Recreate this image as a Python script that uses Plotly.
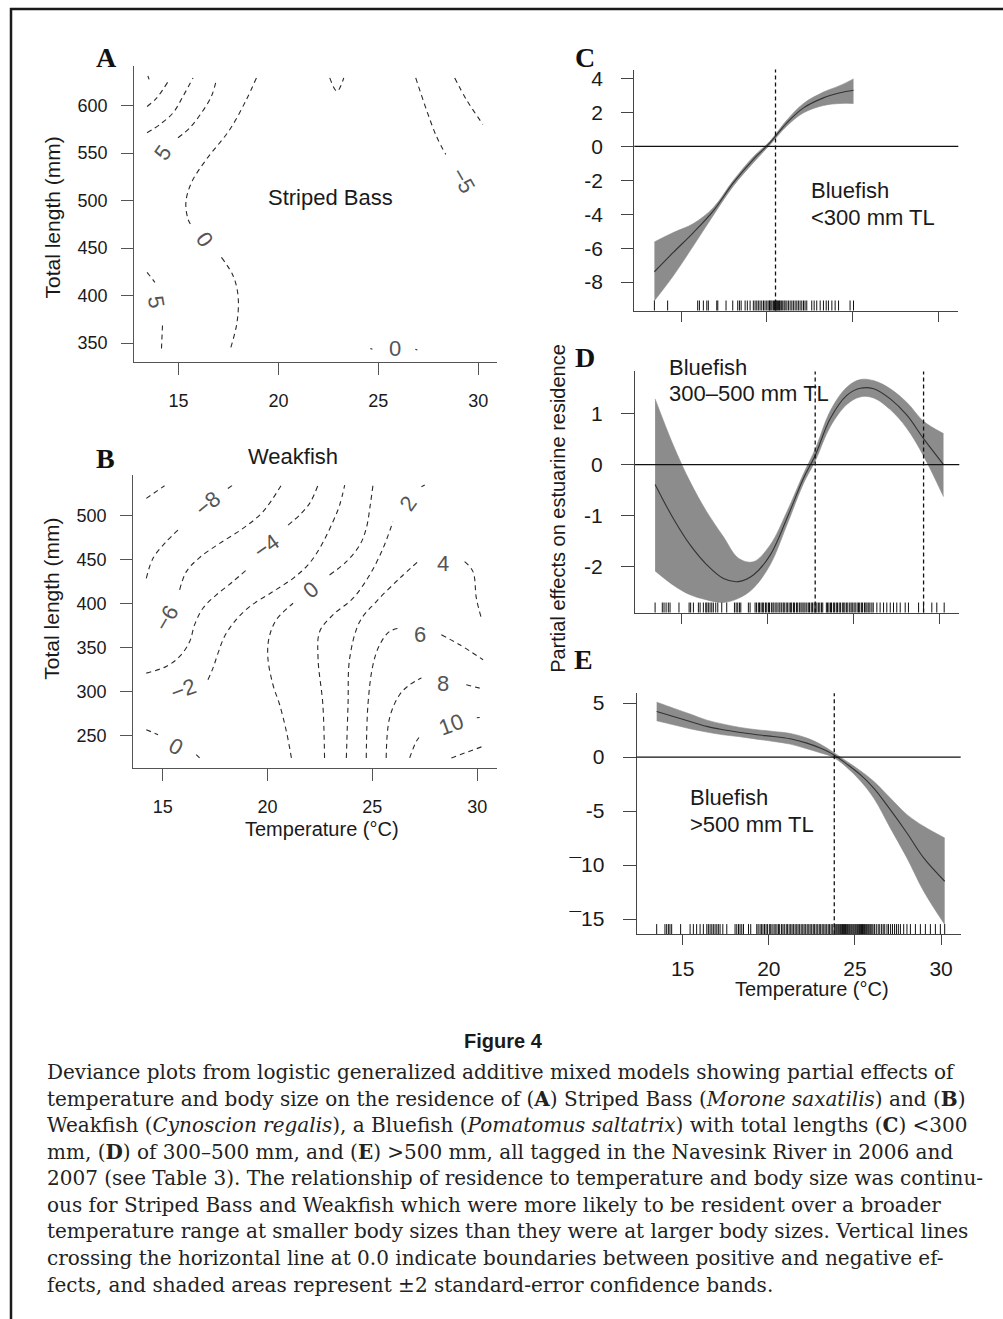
import plotly.graph_objects as go

W, H = 1003, 1319


def pxx(x):
    return x / W


def pyy(y):
    return 1 - y / H


# ============================ DATA ============================
# ---- Panel A: Striped Bass contour lines (temperature degC, total length mm)
A_c1_x = [13.47, 13.53]
A_c1_y = [631.0, 627.5]
A_c2_x = [13.43, 13.90, 14.48]
A_c2_y = [599.0, 607.7, 625.2]
A_c3_x = [13.43, 14.07, 14.73, 15.23, 15.73]
A_c3_y = [571.3, 580.1, 592.3, 609.8, 629.0]
A_c4_x = [14.98, 15.57, 16.15, 16.65, 16.90]
A_c4_y = [566.1, 576.6, 592.3, 609.8, 627.3]
A_c5_x = [18.90, 18.40, 17.57, 16.40, 15.65, 15.37, 15.48, 15.65, None, 17.15, 17.73, 17.98, 17.93, 17.60]
A_c5_y = [629.0, 606.3, 574.8, 543.4, 518.9, 497.9, 480.4, 473.4, None, 440.2, 421.0, 400.0, 372.0, 344.1]
A_c6_x = [13.43, 13.82, None, 14.20, 14.15]
A_c6_y = [424.5, 414.0, None, 368.5, 344.1]
A_c7_x = [22.57, 22.93, 23.27]
A_c7_y = [629.0, 615.0, 629.0]
A_c8_x = [26.87, 27.40, 27.90, 28.37]
A_c8_y = [629.0, 595.8, 567.8, 548.6]
A_c9_x = [28.82, 29.40, 30.23]
A_c9_y = [629.0, 606.3, 580.1]
A_c10_x = [24.60, 24.70, None, 26.85, 26.95]
A_c10_y = [344.5, 343.7, None, 343.7, 342.9]
A_labels = ["5", "0", "5", "\u22125", "0"]
A_label_x = [14.23, 16.32, 13.90, 29.23, 25.82]
A_label_y = [550.3, 459.4, 393.0, 520.6, 344.1]
A_label_ang = [-55, 55, 80, 60, 0]
A_xticks = [15, 20, 25, 30]
A_yticks = [350, 400, 450, 500, 550, 600]

# ---- Panel B: Weakfish contour lines
B_m10_x = [14.22, 15.09]
B_m10_y = [519.7, 534.0]
B_m8_x = [14.22, 14.54, 15.17, 15.73, None, 18.11, 18.35]
B_m8_y = [428.9, 451.6, 470.5, 483.7, None, 531.0, 534.8]
B_m6_x = [15.81, 16.13, 16.76, 17.72, 18.83, 19.78, 20.66]
B_m6_y = [415.7, 436.5, 452.4, 468.6, 485.6, 504.5, 534.8]
B_m4_x = [14.22, 15.17, 15.81, 16.29, 16.52, 16.92, 17.56, 18.35, 18.99, None, 20.98, 21.53, 22.01, 22.41]
B_m4_y = [321.2, 328.8, 340.1, 357.1, 376.0, 394.9, 410.1, 425.2, 438.4, None, 489.4, 500.8, 514.0, 534.8]
B_m2_x = [17.16, 17.40, 17.64, 17.95, 18.43, 19.15, 20.26, 21.22, 21.93, 22.49, 23.12, 23.44, 23.68]
B_m2_y = [313.7, 326.9, 343.9, 362.8, 379.8, 396.8, 413.8, 428.9, 444.1, 463.0, 493.2, 512.1, 534.8]
B_0a_x = [21.14, 20.90, 20.58, 20.26, 20.02, 20.07, 20.42, 21.22, None, 22.96, 23.76, 24.40, 24.71, 24.90, 25.03]
B_0a_y = [224.9, 255.1, 285.3, 308.0, 338.2, 360.9, 381.7, 400.6, None, 432.7, 447.8, 466.7, 485.6, 512.1, 534.8]
B_0b_x = [14.22, 14.78, None, 16.60, 16.76]
B_0b_y = [257.0, 251.3, None, 228.6, 224.9]
B_p2_x = [22.72, 22.64, 22.41, 22.49, 23.12, 24.08, 24.87, 25.51, 25.98, None, 27.34, 27.50]
B_p2_y = [224.9, 285.3, 338.2, 368.5, 387.4, 406.3, 432.7, 463.0, 493.2, None, 532.9, 534.8]
B_p4_x = [23.76, 23.84, 23.92, 24.40, 25.19, 26.30, 27.26, None, 29.40, 29.80, 29.96, 30.20]
B_p4_y = [224.9, 285.3, 338.2, 379.8, 402.5, 428.9, 449.7, None, 447.8, 436.5, 406.3, 383.6]
B_p6_x = [24.71, 24.79, 25.03, 25.35, 25.82, 26.30, None, 28.29, 29.17, 30.28]
B_p6_y = [224.9, 285.3, 330.7, 353.4, 368.5, 372.3, None, 364.7, 353.4, 336.4]
B_p8_x = [25.66, 25.82, 26.30, 26.78, 27.34, None, 29.48, 30.12]
B_p8_y = [224.9, 270.2, 296.7, 308.0, 315.6, None, 308.0, 304.2]
B_p10_x = [26.78, 27.10, 27.34, None, 29.98, 30.12]
B_p10_y = [224.9, 243.8, 251.3, None, 270.6, 270.9]
B_p12_x = [28.77, 30.28]
B_p12_y = [224.9, 238.1]
B_labels = ["\u22128", "\u22126", "\u22124", "\u22122", "0", "0", "2", "4", "6", "8", "10"]
B_label_x = [17.16, 15.17, 19.94, 15.97, 22.09, 15.65, 26.70, 28.37, 27.26, 28.37, 28.77]
B_label_y = [514.0, 383.6, 464.9, 302.3, 415.7, 238.1, 514.0, 446.0, 364.7, 309.9, 262.7]
B_label_ang = [-40, -60, -35, -20, -40, 28, -55, 0, 0, 0, -20]
B_xticks = [15, 20, 25, 30]
B_yticks = [250, 300, 350, 400, 450, 500]

# ---- Panel C: Bluefish < 300 mm TL
C_x = [13.45, 14.55, 15.72, 16.88, 18.05, 19.21, 20.18, 21.16, 22.13, 23.29, 24.26, 25.04]
C_fit = [-7.39, -6.25, -5.08, -3.80, -2.14, -0.76, 0.22, 1.39, 2.27, 2.86, 3.16, 3.31]
C_upper = [-5.63, -5.08, -4.55, -3.61, -2.00, -0.61, 0.31, 1.55, 2.53, 3.20, 3.59, 3.98]
C_lower = [-9.10, -7.63, -5.86, -4.06, -2.33, -0.96, 0.10, 1.20, 1.98, 2.41, 2.53, 2.53]
C_vlines = [20.50]
C_rug = [13.45, 14.22, 15.97, 16.07, 16.30, 16.50, 16.59, 17.08, 17.14, 17.62, 18.01, 18.30,
         18.40, 18.50, 18.73, 18.86, 19.02, 19.21, 19.31, 19.41, 19.50, 19.60, 19.70, 19.80,
         19.89, 19.99, 20.07, 20.15, 20.18, 20.24, 20.30, 20.38, 20.44, 20.50, 20.53, 20.57,
         20.61, 20.67, 20.73, 20.77, 20.84, 20.92, 21.00, 21.06, 21.16, 21.25, 21.35, 21.45,
         21.54, 21.64, 21.74, 21.83, 21.93, 22.03, 22.13, 22.22, 22.32, 22.61, 22.75, 22.90,
         23.10, 23.29, 23.45, 23.58, 23.78, 23.97, 24.17, 24.84, 25.04]
C_yticks = [-8, -6, -4, -2, 0, 2, 4]
C_yticktext = ["-8", "-6", "-4", "-2", "0", "2", "4"]

# ---- Panel D: Bluefish 300-500 mm TL
D_x = [13.45, 14.51, 15.49, 16.46, 17.43, 18.30, 19.17, 20.15, 21.12, 22.09, 22.77, 23.64,
       24.61, 25.39, 26.17, 27.14, 28.11, 29.08, 30.24]
D_fit = [-0.39, -1.06, -1.58, -1.97, -2.24, -2.30, -2.17, -1.78, -1.06, -0.27, 0.18, 0.90,
         1.36, 1.50, 1.49, 1.29, 0.97, 0.51, 0.00]
D_upper = [1.29, 0.38, -0.34, -0.93, -1.42, -1.84, -1.91, -1.58, -0.93, -0.18, 0.30, 1.05,
           1.52, 1.67, 1.65, 1.49, 1.22, 0.85, 0.61]
D_lower = [-2.09, -2.37, -2.56, -2.66, -2.71, -2.63, -2.43, -1.97, -1.19, -0.37, 0.07, 0.74,
           1.18, 1.33, 1.31, 1.08, 0.71, 0.17, -0.63]
D_vlines = [22.77, 29.08]
D_rug = [13.45, 13.87, 13.97, 14.09, 14.22, 14.32, 14.84, 15.43, 15.52, 15.68, 15.97, 16.07,
         16.26, 16.40, 16.46, 16.55, 16.65, 16.75, 16.84, 16.98, 17.10, 17.33, 17.62, 18.07,
         18.17, 18.26, 18.36, 18.44, 18.88, 18.98, 19.27, 19.35, 19.46, 19.53, 19.62, 19.71,
         19.77, 19.88, 19.95, 20.05, 20.11, 20.22, 20.31, 20.37, 20.48, 20.55, 20.66, 20.72,
         20.82, 20.91, 20.97, 21.08, 21.15, 21.25, 21.34, 21.40, 21.51, 21.57, 21.68, 21.75,
         21.85, 21.94, 22.01, 22.11, 22.18, 22.28, 22.37, 22.44, 22.54, 22.61, 22.71, 22.80,
         22.87, 22.97, 23.04, 23.14, 23.21, 23.42, 23.49, 23.57, 23.66, 23.72, 23.83, 23.90,
         24.00, 24.07, 24.17, 24.24, 24.35, 24.43, 24.50, 24.60, 24.67, 24.78, 24.86, 24.93,
         25.03, 25.10, 25.21, 25.29, 25.36, 25.46, 25.53, 25.64, 25.72, 25.79, 25.89, 25.96,
         26.07, 26.15, 26.36, 26.55, 26.75, 26.94, 27.14, 27.33, 27.52, 27.72, 28.01, 28.20,
         28.79, 29.08, 29.56, 29.85, 30.28]
D_yticks = [-2, -1, 0, 1]
D_yticktext = ["-2", "-1", "0", "1"]

# ---- Panel E: Bluefish > 500 mm TL
E_x = [13.49, 14.46, 15.43, 16.40, 17.36, 18.33, 19.30, 20.27, 21.24, 22.21, 22.98, 23.76,
       24.53, 25.31, 26.09, 27.05, 28.02, 28.99, 30.21]
E_fit = [4.22, 3.76, 3.30, 2.84, 2.53, 2.28, 2.06, 1.91, 1.69, 1.29, 0.83, 0.22,
         -0.65, -1.63, -2.87, -4.87, -7.03, -9.34, -11.50]
E_upper = [5.08, 4.53, 3.98, 3.42, 3.05, 2.74, 2.53, 2.37, 2.19, 1.76, 1.20, 0.43,
           -0.40, -1.26, -2.25, -3.79, -5.33, -6.41, -7.49]
E_lower = [3.36, 2.99, 2.62, 2.31, 2.06, 1.88, 1.66, 1.45, 1.20, 0.77, 0.40, -0.03,
           -0.96, -2.19, -3.79, -6.56, -9.34, -12.42, -15.50]
E_vlines = [23.80]
E_rug = [13.49, 13.97, 14.07, 14.17, 14.26, 14.36, 14.88, 15.43, 15.62, 15.81, 16.01, 16.20,
         16.40, 16.49, 16.59, 16.69, 16.78, 16.88, 16.98, 17.07, 17.17, 17.33, 17.56, 18.04,
         18.14, 18.24, 18.33, 18.43, 18.53, 18.82, 18.95, 19.30, 19.38, 19.49, 19.57, 19.66,
         19.75, 19.84, 19.92, 20.03, 20.11, 20.19, 20.30, 20.37, 20.47, 20.56, 20.63, 20.74,
         20.82, 20.90, 21.01, 21.08, 21.18, 21.27, 21.35, 21.44, 21.53, 21.62, 21.70, 21.79,
         21.88, 21.97, 22.05, 22.14, 22.23, 22.32, 22.40, 22.49, 22.58, 22.66, 22.75, 22.84,
         22.93, 23.01, 23.10, 23.19, 23.27, 23.36, 23.45, 23.53, 23.62, 23.71, 23.80, 23.84,
         23.90, 23.95, 24.01, 24.06, 24.12, 24.17, 24.23, 24.28, 24.34, 24.39, 24.45, 24.50,
         24.56, 24.61, 24.67, 24.72, 24.78, 24.83, 24.89, 24.94, 25.00, 25.05, 25.11, 25.16,
         25.22, 25.27, 25.33, 25.38, 25.44, 25.49, 25.55, 25.60, 25.66, 25.71, 25.77, 25.82,
         25.88, 25.93, 25.99, 26.05, 26.14, 26.24, 26.35, 26.44, 26.55, 26.64, 26.73, 26.86,
         26.95, 27.07, 27.18, 27.30, 27.41, 27.52, 27.64, 27.83, 28.02, 28.22, 28.51, 28.80,
         29.09, 29.38, 29.67, 29.96, 30.21]
E_xticks = [15, 20, 25, 30]
E_yticks = [-15, -10, -5, 0, 5]
E_yticktext = ["\u00af15", "\u00af10", "-5", "0", "5"]

CAPTION_LINES = [
    "Deviance plots from logistic generalized additive mixed models showing partial effects of",
    "temperature and body size on the residence of (<b>A</b>) Striped Bass (<i>Morone saxatilis</i>) and (<b>B</b>)",
    "Weakfish (<i>Cynoscion regalis</i>), a Bluefish (<i>Pomatomus saltatrix</i>) with total lengths (<b>C</b>) &lt;300",
    "mm, (<b>D</b>) of 300\u2013500 mm, and (<b>E</b>) &gt;500 mm, all tagged in the Navesink River in 2006 and",
    "2007 (see Table 3). The relationship of residence to temperature and body size was continu-",
    "ous for Striped Bass and Weakfish which were more likely to be resident over a broader",
    "temperature range at smaller body sizes than they were at larger body sizes. Vertical lines",
    "crossing the horizontal line at 0.0 indicate boundaries between positive and negative ef-",
    "fects, and shaded areas represent \u00b12 standard-error confidence bands.",
]

# ============================ FIGURE ============================
SANS = "Liberation Sans, Arial, sans-serif"
fig = go.Figure()

CONTOUR_STYLE = dict(color="#2a2a2a", width=1.1, dash="5px,4px")

A_lines = [(A_c1_x, A_c1_y), (A_c2_x, A_c2_y), (A_c3_x, A_c3_y), (A_c4_x, A_c4_y),
           (A_c5_x, A_c5_y), (A_c6_x, A_c6_y), (A_c7_x, A_c7_y), (A_c8_x, A_c8_y),
           (A_c9_x, A_c9_y), (A_c10_x, A_c10_y)]
for xs, ys in A_lines:
    fig.add_trace(go.Scatter(x=xs, y=ys, mode="lines", line=CONTOUR_STYLE,
                             line_shape="spline", connectgaps=False,
                             xaxis="x", yaxis="y", showlegend=False, hoverinfo="skip"))

B_lines = [(B_m10_x, B_m10_y), (B_m8_x, B_m8_y), (B_m6_x, B_m6_y), (B_m4_x, B_m4_y),
           (B_m2_x, B_m2_y), (B_0a_x, B_0a_y), (B_0b_x, B_0b_y), (B_p2_x, B_p2_y),
           (B_p4_x, B_p4_y), (B_p6_x, B_p6_y), (B_p8_x, B_p8_y), (B_p10_x, B_p10_y),
           (B_p12_x, B_p12_y)]
for xs, ys in B_lines:
    fig.add_trace(go.Scatter(x=xs, y=ys, mode="lines", line=CONTOUR_STYLE,
                             line_shape="spline", connectgaps=False,
                             xaxis="x2", yaxis="y2", showlegend=False, hoverinfo="skip"))

BAND = "#8c8c8c"


def add_gam(xs, fit, up, lo, rug, vlines, xa, ya, yrange, hpx):
    fig.add_trace(go.Scatter(x=xs, y=lo, mode="lines",
                             line=dict(color=BAND, width=0.6, shape="spline"),
                             xaxis=xa, yaxis=ya, showlegend=False, hoverinfo="skip"))
    fig.add_trace(go.Scatter(x=xs, y=up, mode="lines", fill="tonexty", fillcolor=BAND,
                             line=dict(color=BAND, width=0.6, shape="spline"),
                             xaxis=xa, yaxis=ya, showlegend=False, hoverinfo="skip"))
    fig.add_trace(go.Scatter(x=xs, y=fit, mode="lines",
                             line=dict(color="#333333", width=1.1, shape="spline"),
                             xaxis=xa, yaxis=ya, showlegend=False, hoverinfo="skip"))
    ybase = yrange[0] + 4.5 * (yrange[1] - yrange[0]) / hpx
    fig.add_trace(go.Scatter(x=rug, y=[ybase] * len(rug), mode="markers",
                             marker=dict(symbol="line-ns-open", size=8, color="#111111",
                                         line=dict(color="#111111", width=1)),
                             xaxis=xa, yaxis=ya, showlegend=False, hoverinfo="skip"))
    axname = xa.replace("x", "y")
    for v in vlines:
        fig.add_shape(type="line", xref=xa, yref=axname + " domain", x0=v, x1=v, y0=0, y1=1,
                      line=dict(color="#111111", width=1.3, dash="4px,3px"))
    fig.add_shape(type="line", xref=xa + " domain", yref=ya, x0=0, x1=1, y0=0, y1=0,
                  line=dict(color="#111111", width=1.2))


C_range = [-9.68, 4.53]
D_range = [-2.91, 1.83]
E_range = [-16.4, 5.92]
add_gam(C_x, C_fit, C_upper, C_lower, C_rug, C_vlines, "x3", "y3", C_range, 241.6)
add_gam(D_x, D_fit, D_upper, D_lower, D_rug, D_vlines, "x4", "y4", D_range, 241.7)
add_gam(E_x, E_fit, E_upper, E_lower, E_rug, E_vlines, "x5", "y5", E_range, 241.6)


def axis(domain, rng, tickvals, ticktext=None, showlabels=True, size=18, standoff=10,
         ticklen=12, anchor=None, color="#555555"):
    d = dict(domain=domain, range=rng, showline=True, linecolor=color, linewidth=1.2,
             ticks="outside", ticklen=ticklen, tickcolor=color, tickwidth=1.1,
             tickvals=tickvals, showticklabels=showlabels, showgrid=False, zeroline=False,
             tickfont=dict(family=SANS, size=size, color="#1a1a1a"),
             ticklabelstandoff=standoff, fixedrange=True, anchor=anchor)
    if ticktext is not None:
        d["ticktext"] = ticktext
    return d


fig.update_layout(
    width=W, height=H, margin=dict(l=0, r=0, t=0, b=0),
    paper_bgcolor="white", plot_bgcolor="rgba(0,0,0,0)", showlegend=False,
    xaxis=axis([pxx(134.3), pxx(496.7)], [12.79, 30.92], A_xticks, anchor="y", standoff=10),
    yaxis=axis([pyy(360), pyy(63)], [330, 641.7], A_yticks, anchor="x", standoff=10),
    xaxis2=axis([pxx(133.3), pxx(496.7)], [13.6, 30.93], B_xticks, anchor="y2", standoff=10),
    yaxis2=axis([pyy(766.7), pyy(473.3)], [213.5, 546], B_yticks, anchor="x2", standoff=10),
    xaxis3=axis([pxx(634.3), pxx(958.3)], [12.28, 31.14], E_xticks, showlabels=False,
                anchor="y3", ticklen=10, color="#444444"),
    yaxis3=axis([pyy(308.3), pyy(66.7)], C_range, C_yticks, C_yticktext, size=21,
                standoff=14, anchor="x3", ticklen=12, color="#444444"),
    xaxis4=axis([pxx(635), pxx(959.3)], [12.28, 31.16], E_xticks, showlabels=False,
                anchor="y4", ticklen=10, color="#444444"),
    yaxis4=axis([pyy(611), pyy(369.3)], D_range, D_yticks, D_yticktext, size=21,
                standoff=14, anchor="x4", ticklen=13, color="#444444"),
    xaxis5=axis([pxx(636.7), pxx(960.7)], [12.33, 31.14], E_xticks, size=21, standoff=6,
                anchor="y5", ticklen=10, color="#444444"),
    yaxis5=axis([pyy(933.3), pyy(691.7)], E_range, E_yticks, E_yticktext, size=21,
                standoff=14, anchor="x5", ticklen=13, color="#444444"),
)

ann = []
# contour labels
for t, x, y, a in zip(A_labels, A_label_x, A_label_y, A_label_ang):
    ann.append(dict(text=t, x=x, y=y, xref="x", yref="y", textangle=a, showarrow=False,
                    font=dict(family=SANS, size=22, color="#555555")))
for t, x, y, a in zip(B_labels, B_label_x, B_label_y, B_label_ang):
    ann.append(dict(text=t, x=x, y=y, xref="x2", yref="y2", textangle=a, showarrow=False,
                    font=dict(family=SANS, size=22, color="#555555")))


def txt(text, x, y, size=22, xanchor="center", family=SANS, color="#1a1a1a", angle=0):
    ann.append(dict(text=text, x=pxx(x), y=pyy(y), xref="paper", yref="paper",
                    xanchor=xanchor, yanchor="middle", showarrow=False, textangle=angle,
                    font=dict(family=family, size=size, color=color)))


SERIF_B = "Liberation Serif, Times New Roman, serif"
for letter, x, y in [("A", 106.7, 55), ("B", 105, 457), ("C", 585, 55), ("D", 585, 355),
                     ("E", 583, 658)]:
    txt("<b>%s</b>" % letter, x, y, size=28, family=SERIF_B, color="#111111")

txt("Striped Bass", 330, 195, size=22)
txt("Weakfish", 293, 455, size=22)
txt("Total length (mm)", 53, 215, size=21, angle=-90)
txt("Total length (mm)", 52, 597, size=21, angle=-90)
txt("Temperature (\u00b0C)", 322, 828, size=20)
txt("Partial effects on estuarine residence", 558, 507, size=20, angle=-90)
txt("Bluefish", 809, 188, size=22, xanchor="left")
txt("&lt;300 mm TL", 809, 215, size=22, xanchor="left")
txt("Bluefish", 667, 365, size=22, xanchor="left")
txt("300\u2013500 mm TL", 667, 391, size=22, xanchor="left")
txt("Bluefish", 688, 796, size=22, xanchor="left")
txt("&gt;500 mm TL", 688, 823, size=22, xanchor="left")
txt("Temperature (\u00b0C)", 812, 988, size=20)

txt("<b>Figure 4</b>", 503, 1040, size=20,
    family="Liberation Sans Narrow, Liberation Sans, Arial, sans-serif")
for i, line in enumerate(CAPTION_LINES):
    txt(line, 45, 1071.7 + 26.6 * i, size=20, xanchor="left",
        family="DejaVu Serif, serif", color="#222222")

fig.update_layout(annotations=ann)

# frame lines
fig.add_shape(type="line", xref="paper", yref="paper", x0=pxx(10), x1=1, y0=pyy(6), y1=pyy(6),
              line=dict(color="#1a1a1a", width=2.5))
fig.add_shape(type="line", xref="paper", yref="paper", x0=pxx(11), x1=pxx(11), y0=pyy(5), y1=0,
              line=dict(color="#1a1a1a", width=2.5))

fig.write_html("out.html", config={"displayModeBar": False},
               post_script="document.body.style.margin='0';document.body.style.overflow='hidden';")
